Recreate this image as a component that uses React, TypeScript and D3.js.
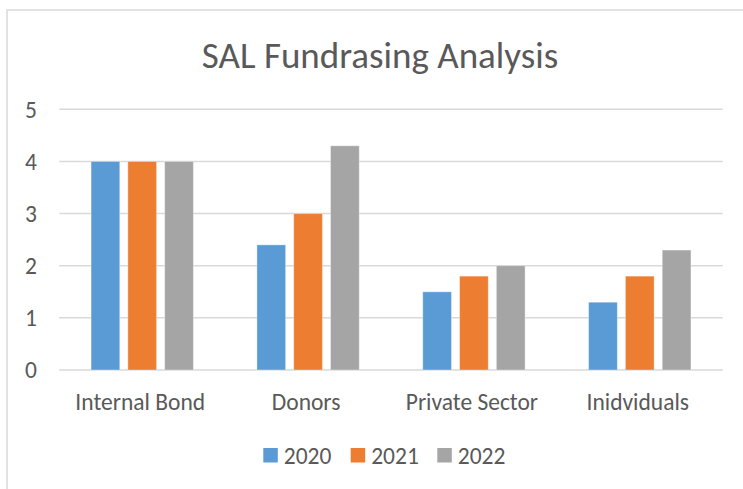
import React from "react";
import * as d3 from "d3";

const categories = ["Internal Bond", "Donors", "Private Sector", "Inidviduals"];
const seriesNames = ["2020", "2021", "2022"];
const values2020 = [4, 2.4, 1.5, 1.3];
const values2021 = [4, 3, 1.8, 1.8];
const values2022 = [4, 4.3, 2, 2.3];
const yTicks = [0, 1, 2, 3, 4, 5];
const colors = ["#5B9BD5", "#ED7D31", "#A5A5A5"];
const title = "SAL Fundrasing Analysis";

const W = 743;
const H = 489;
const FONT = "Carlito, Calibri, Lato, 'Open Sans', sans-serif";
const TEXT = "#595959";

export default function App() {
  const series = [values2020, values2021, values2022];
  const plotLeft = 59.3;
  const plotRight = 722.7;
  const y = d3.scaleLinear().domain([0, 5]).range([370, 109.3]);
  const x0 = d3
    .scaleBand<string>()
    .domain(categories)
    .range([plotLeft, plotRight])
    .paddingInner(0.383)
    .paddingOuter(0.1915);
  const x1 = d3
    .scaleBand<string>()
    .domain(seriesNames)
    .range([0, x0.bandwidth()])
    .paddingInner(0.22)
    .paddingOuter(0);

  const legendX = [263.3, 350.7, 437.3];

  return (
    <svg
      width={W}
      height={H}
      style={{ position: "absolute", left: 0, top: 0, background: "#fff" }}
      fontFamily={FONT}
    >
      <rect x={0} y={0} width={W} height={H} fill="#fff" />
      <path d={`M7,${H} V10 H${W}`} fill="none" stroke="#D9D9D9" strokeWidth={1.5} />

      <text x={380} y={68} textAnchor="middle" fontSize={37} fill={TEXT}>
        {title}
      </text>

      {yTicks.map((t) => (
        <g key={t}>
          <line x1={plotLeft} x2={plotRight} y1={y(t)} y2={y(t)} stroke="#D9D9D9" strokeWidth={1.5} />
          <text x={37} y={y(t)} dy="0.35em" textAnchor="end" fontSize={23.5} fill={TEXT}>
            {t}
          </text>
        </g>
      ))}

      {categories.map((c, ci) => (
        <g key={c} transform={`translate(${x0(c)},0)`}>
          {seriesNames.map((s, si) => (
            <rect
              key={s}
              x={x1(s)}
              y={y(series[si][ci])}
              width={x1.bandwidth()}
              height={y(0) - y(series[si][ci])}
              fill={colors[si]}
              stroke="#ffffff"
              strokeOpacity={0.35}
              strokeWidth={1}
            />
          ))}
        </g>
      ))}

      {categories.map((c) => (
        <text
          key={c}
          x={(x0(c) as number) + x0.bandwidth() / 2 - 2}
          y={410}
          textAnchor="middle"
          fontSize={23.5}
          fill={TEXT}
        >
          {c}
        </text>
      ))}

      {seriesNames.map((s, i) => (
        <g key={s}>
          <rect x={legendX[i]} y={448} width={14.5} height={14.5} fill={colors[i]} />
          <text x={legendX[i] + 20.5} y={455.5} dy="0.35em" fontSize={23.5} fill={TEXT}>
            {s}
          </text>
        </g>
      ))}
    </svg>
  );
}
